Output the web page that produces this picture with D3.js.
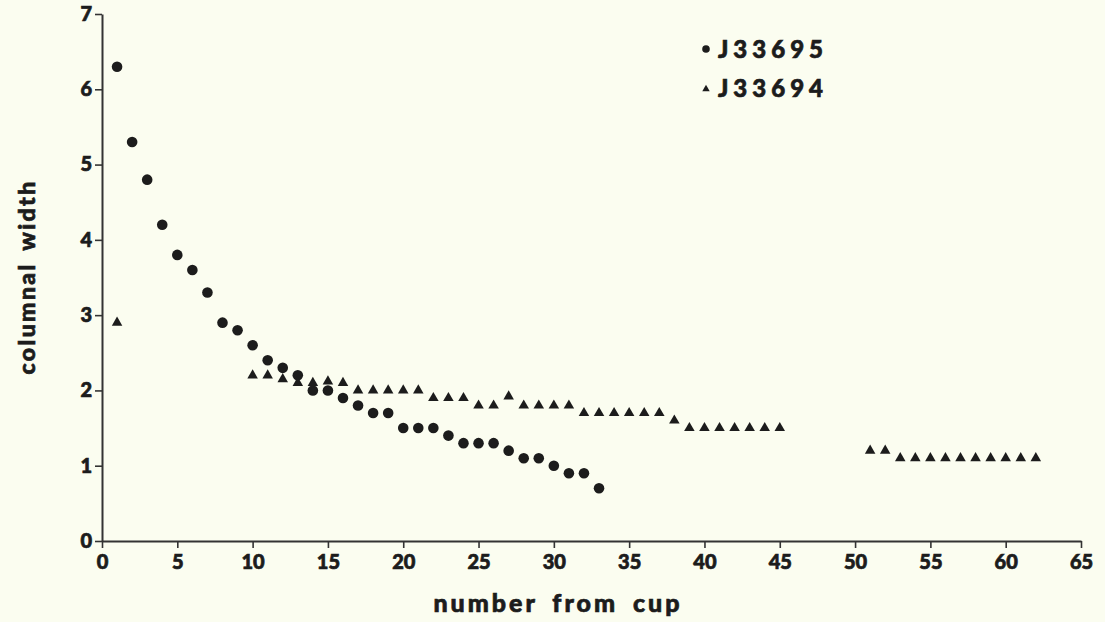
<!DOCTYPE html>
<html>
<head>
<meta charset="utf-8">
<script src="https://cdn.jsdelivr.net/npm/d3@7"></script>
<style>
	body { margin: 0; background: #fbfdf0; }
	svg { display: block; }
	text { font-family: Lato, "DejaVu Sans", sans-serif; font-weight: 900; fill: #1c1c1c; stroke: #1c1c1c; stroke-width: 0.7px; }
</style>
</head>
<body>
<svg id="chart" width="1105" height="622"></svg>
<script>
// J33695 (circles): position from cup -> columnal width
var circleX = [1, 2, 3, 4, 5, 6, 7, 8, 9, 10, 11, 12, 13, 14, 15, 16, 17, 18, 19, 20, 21, 22, 23, 24, 25, 26, 27, 28, 29, 30, 31, 32, 33];
var circleY = [6.3, 5.3, 4.8, 4.2, 3.8, 3.6, 3.3, 2.9, 2.8, 2.6, 2.4, 2.3, 2.2, 2.0, 2.0, 1.9, 1.8, 1.7, 1.7, 1.5, 1.5, 1.5, 1.4, 1.3, 1.3, 1.3, 1.2, 1.1, 1.1, 1.0, 0.9, 0.9, 0.7];

// J33694 (triangles)
var triX = [1, 10, 11, 12, 13, 14, 15, 16, 17, 18, 19, 20, 21, 22, 23, 24, 25, 26, 27, 28, 29, 30, 31, 32, 33, 34, 35, 36, 37, 38, 39, 40, 41, 42, 43, 44, 45, 51, 52, 53, 54, 55, 56, 57, 58, 59, 60, 61, 62];
var triY = [2.9, 2.2, 2.2, 2.15, 2.1, 2.1, 2.12, 2.1, 2.0, 2.0, 2.0, 2.0, 2.0, 1.9, 1.9, 1.9, 1.8, 1.8, 1.92, 1.8, 1.8, 1.8, 1.8, 1.7, 1.7, 1.7, 1.7, 1.7, 1.7, 1.6, 1.5, 1.5, 1.5, 1.5, 1.5, 1.5, 1.5, 1.2, 1.2, 1.1, 1.1, 1.1, 1.1, 1.1, 1.1, 1.1, 1.1, 1.1, 1.1];

var xTicks = d3.range(0, 66, 5);
var yTicks = d3.range(0, 8, 1);
var seriesNames = ["J33695", "J33694"];

var svg = d3.select("#chart");
var margin = {left: 102, top: 14, right: 24, bottom: 81};
var width = 1105 - margin.left - margin.right;
var height = 622 - margin.top - margin.bottom;

var x = d3.scaleLinear().domain([0, 65]).range([0, width]);
var y = d3.scaleLinear().domain([0, 7]).range([height, 0]);

var g = svg.append("g").attr("transform", "translate(" + margin.left + "," + margin.top + ")");

//Axes
var xAxis = g.append("g")
	.attr("transform", "translate(0," + height + ")")
	.call(d3.axisBottom(x).tickValues(xTicks).tickFormat(d3.format("d")).tickSize(7).tickSizeOuter(0).tickPadding(7));
var yAxis = g.append("g")
	.call(d3.axisLeft(y).tickValues(yTicks).tickFormat(d3.format("d")).tickSize(7).tickSizeOuter(0).tickPadding(3));

[xAxis, yAxis].forEach(function(a) {
	a.select(".domain").attr("stroke", "#333").attr("stroke-width", 2);
	a.selectAll(".tick line").attr("stroke", "#333").attr("stroke-width", 1.6);
	a.selectAll(".tick text").style("font-size", "20px").attr("fill", "#1c1c1c");
});

//Circles
g.selectAll(".c").data(circleX).enter().append("circle")
	.attr("cx", d => x(d))
	.attr("cy", (d, i) => y(circleY[i]))
	.attr("r", 5.3)
	.attr("fill", "#1c1c1c");

//Triangles
var tri = d3.symbol().type(d3.symbolTriangle).size(48);
g.selectAll(".t").data(triX).enter().append("path")
	.attr("d", tri)
	.attr("transform", (d, i) => "translate(" + x(d) + "," + y(triY[i]) + ")")
	.attr("fill", "#1c1c1c");

//Axis titles
svg.append("text")
	.attr("x", 558).attr("y", 612)
	.attr("text-anchor", "middle")
	.style("font-size", "25px")
	.style("letter-spacing", "3px")
	.style("word-spacing", "6px")
	.text("number from cup");

svg.append("text")
	.attr("transform", "translate(35,277) rotate(-90)")
	.attr("text-anchor", "middle")
	.style("font-size", "23px")
	.style("letter-spacing", "2.4px")
	.style("word-spacing", "4px")
	.text("columnal width");

//Legend
var legend = svg.append("g").attr("transform", "translate(706,49)");
legend.append("circle").attr("cx", 0).attr("cy", 0).attr("r", 3.8).attr("fill", "#1c1c1c");
legend.append("path").attr("d", d3.symbol().type(d3.symbolTriangle).size(24))
	.attr("transform", "translate(0,40)").attr("fill", "#1c1c1c");
legend.selectAll(".lt").data(seriesNames).enter().append("text")
	.attr("x", 12)
	.attr("y", (d, i) => 9 + i * 39)
	.style("font-size", "24px")
	.style("letter-spacing", "5px")
	.text(d => d);
</script>
</body>
</html>
